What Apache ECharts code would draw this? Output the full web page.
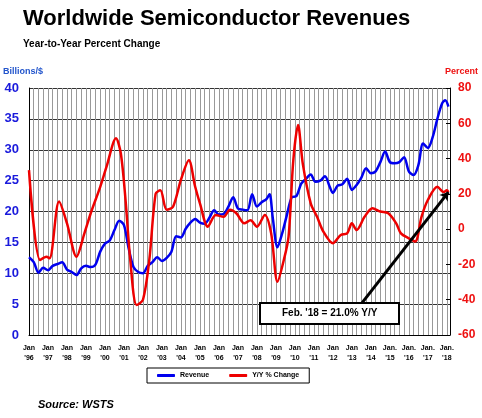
<!DOCTYPE html>
<html>
<head>
<meta charset="utf-8">
<script src="https://cdn.jsdelivr.net/npm/echarts@6/dist/echarts.min.js"></script>
<style>html,body{margin:0;padding:0;background:#fff}#chart{width:482px;height:418px}</style>
</head>
<body>
<div id="chart"></div>
<script>
// months since Jan '96
var revMonths = [0,3,6,9,12,15,18,21,24,27,30,33,36,39,42,45,48,51,54,57,60,63,66,69,72,75,78,81,84,87,90,93,96,99,102,105,108,111,114,117,120,123,126,129,132,135,138,141,144,147,150,152,154,157,160,163,166,169,172,175,178,181,184,187,190,192,195,198,201,204,207,210,213,216,219,222,225,228,231,234,237,240,243,246,249,252,255,258,261,263,265];
var revenue = [12.6,11.8,10.1,10.9,10.5,11.2,11.5,11.8,10.6,10.2,9.7,10.8,11.2,11.0,11.4,13.5,14.8,15.3,17.0,18.5,17.8,14.0,11.0,10.2,10.0,11.2,11.8,12.6,12.0,12.5,13.5,16.0,15.8,17.2,18.2,18.8,18.2,18.0,19.0,20.2,19.5,19.6,20.8,22.3,20.5,20.3,20.2,22.8,20.8,21.5,22.0,22.8,19.0,14.2,16.5,19.5,22.3,22.5,24.5,25.3,26.0,24.8,25.0,25.7,24.0,23.0,24.2,24.4,25.3,23.5,24.3,25.5,27.0,26.2,26.5,28.0,29.7,28.0,27.8,28.0,28.8,26.5,25.9,27.5,31.0,30.3,32.0,35.0,37.5,38.0,37.0];
var yoyMonths = [0,7,11,13,19,24,30,35,39,45,49,55,58,61,64,68,72,76,80,83,87,91,96,101,105,108,113,118,123,127,131,136,140,144,149,153,157,161,164,167,170,173,178,182,186,192,197,201,204,207,212,217,222,227,232,235,240,244,248,252,258,262,264,265];
var yoyChange = [33.5,-17.5,-15.6,-16.5,15.6,3.3,-15.6,-2.4,9,24,35.4,51.5,43,16.5,-17.5,-43,-40,-17.5,20,22,11,12.7,28,39,24,14.6,1.4,8,7,11,9,3.3,5,1.4,8,-2.4,-29.8,-17.5,-4.2,39,59,37,14.6,7,-1.4,-8,-3.3,-2.4,3.3,-0.5,7,11.8,10,9,3.3,-2.4,-5.2,-7,7,16.5,24,21,22,21];

var Chart = echarts.init(document.getElementById('chart'));
var font = 'Liberation Sans, Arial, sans-serif';

function pairs(xs, ys) {
  return xs.map(function (x, i) { return [x, ys[i]]; });
}

var option = {
  animation: false,
  textStyle: { fontFamily: font },
  title: [
    { text: 'Worldwide Semiconductor Revenues', left: 18, top: 3,
      textStyle: { fontSize: 22, fontWeight: 'bold', color: '#000', fontFamily: font } },
    { text: 'Year-to-Year Percent Change', left: 18, top: 34,
      textStyle: { fontSize: 10, fontWeight: 'bold', color: '#000', fontFamily: font } },
    { text: 'Source: WSTS', left: 33, top: 394,
      textStyle: { fontSize: 11, fontWeight: 'bold', fontStyle: 'italic', color: '#000', fontFamily: font } }
  ],
  legend: {
    left: 147, top: 368, width: 160, itemWidth: 18, itemHeight: 3, itemGap: 20,
    padding: [4, 10], borderColor: '#000', borderWidth: 1,
    textStyle: { fontSize: 7, fontWeight: 'bold', color: '#000' },
    icon: 'roundRect',
    data: ['Revenue', 'Y/Y % Change']
  },
  grid: { left: 29, right: 32, top: 88, bottom: 83 },
  xAxis: {
    type: 'value', min: 0, max: 266, interval: 3,
    axisLine: { lineStyle: { color: '#000' } },
    axisTick: { show: false },
    splitLine: { show: true, lineStyle: { color: '#999', width: 1 } },
    axisLabel: {
      fontSize: 7, fontWeight: 'bold', color: '#000', lineHeight: 10, showMaxLabel: false,
      formatter: function (v) {
        if (v % 12 !== 0) return '';
        var y = v / 12;
        var yy = String((96 + y) % 100).padStart(2, '0');
        return (y >= 19 ? 'Jan.' : 'Jan') + "\n'" + yy;
      }
    }
  },
  yAxis: [
    { type: 'value', min: 0, max: 40, interval: 5,
      name: 'Billions/$', nameGap: 12, nameTextStyle: { color: '#2255cc', fontSize: 9, fontWeight: 'bold', align: 'left', padding: [0, 0, 0, -26] },
      axisLine: { show: true, lineStyle: { color: '#000' } },
      axisTick: { show: false },
      axisLabel: { color: '#1a1adc', fontSize: 13, fontWeight: 'bold', margin: 10 },
      splitLine: { lineStyle: { color: '#333', width: 1 } } },
    { type: 'value', min: -60, max: 80, interval: 20,
      name: 'Percent', nameGap: 12, nameTextStyle: { color: '#ee1111', fontSize: 9, fontWeight: 'bold', align: 'right', padding: [0, -28, 0, 0] },
      axisLine: { show: true, lineStyle: { color: '#000' } },
      axisTick: { show: true, length: 4, inside: true, lineStyle: { color: '#000' } },
      axisLabel: { color: '#ee1111', fontSize: 12, fontWeight: 'bold', margin: 8 },
      splitLine: { show: false } }
  ],
  series: [
    { name: 'Revenue', type: 'line', yAxisIndex: 0, smooth: 0.3, symbol: 'none',
      lineStyle: { color: '#0000ee', width: 2.5 }, itemStyle: { color: '#0000ee' },
      data: pairs(revMonths, revenue) },
    { name: 'Y/Y % Change', type: 'line', yAxisIndex: 1, smooth: 0.3, symbol: 'none',
      lineStyle: { color: '#ee0000', width: 2.5 }, itemStyle: { color: '#ee0000' },
      data: pairs(yoyMonths, yoyChange),
      markLine: {
        silent: true, symbol: ['none', 'arrow'], symbolSize: 8,
        label: { show: false },
        lineStyle: { color: '#000', width: 3, type: 'solid' },
        data: [[{ coord: [205, -48] }, { coord: [265, 21] }]]
      } }
  ],
  graphic: [
    { type: 'rect', left: 259, top: 302, shape: { width: 139, height: 21 },
      style: { fill: '#fff', stroke: '#000', lineWidth: 2 }, z: 100 },
    { type: 'text', left: 282, top: 308, z: 101,
      style: { text: "Feb. '18 = 21.0% Y/Y", font: 'bold 10px ' + font, fill: '#000' } }
  ]
};
Chart.setOption(option);
</script>
</body>
</html>
